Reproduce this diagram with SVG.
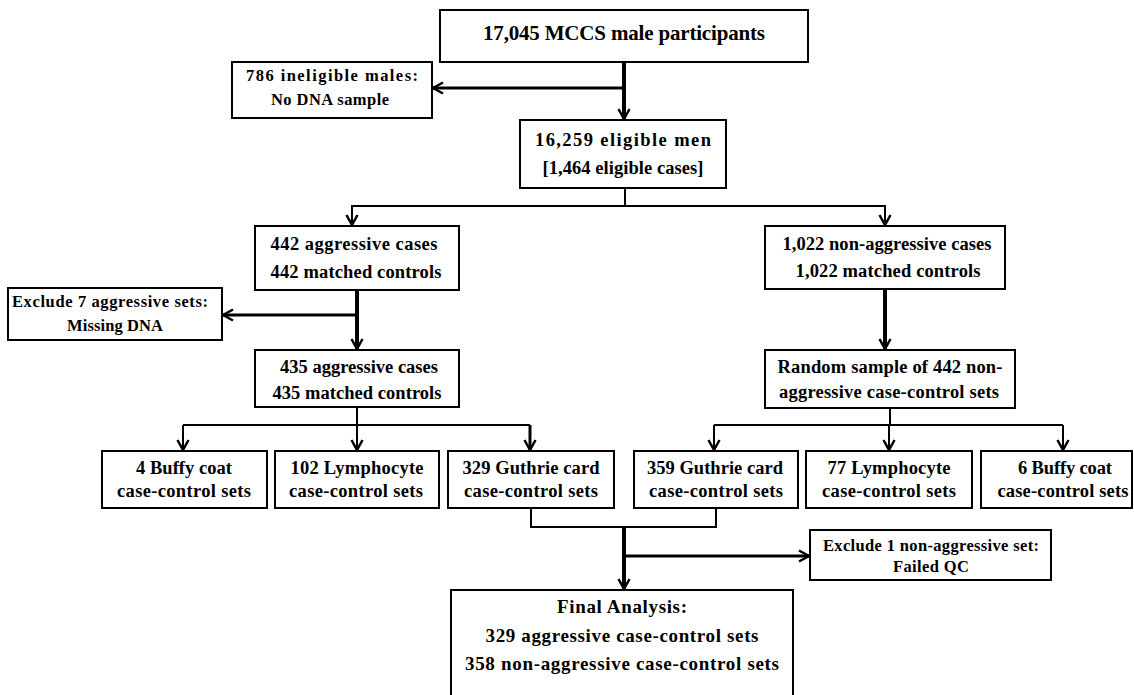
<svg xmlns="http://www.w3.org/2000/svg" width="1134" height="695" viewBox="0 0 1134 695">
<defs>
<style>
.box{fill:#fff;stroke:#000;stroke-width:2}
.t{font-family:"Liberation Serif","Times New Roman",serif;font-weight:bold;fill:#000;text-anchor:middle}
.s16{font-size:18.5px}
.s15{font-size:16.5px}
.s19{font-size:21px}
.s17{font-size:19px}
.thin{stroke:#000;stroke-width:2;fill:none}
.thick{stroke:#000;stroke-width:4;fill:none}
.mid{stroke:#000;stroke-width:3;fill:none}
</style>
<marker id="ah" viewBox="0 0 14 14" refX="12" refY="7" markerWidth="14" markerHeight="14" markerUnits="userSpaceOnUse" orient="auto">
<path d="M2,1.5 L12,7 L2,12.5" fill="none" stroke="#000" stroke-width="2.5"/>
</marker>
</defs>
<rect width="1134" height="695" fill="#fff"/>
<g id="connectors">
<line class="thick" x1="624" y1="62" x2="624" y2="119" marker-end="url(#ah)"/>
<line class="mid" x1="624" y1="88" x2="433" y2="88" marker-end="url(#ah)"/>
<line class="thin" x1="625" y1="188" x2="625" y2="206"/>
<polyline class="thin" points="352,225 352,206 885,206 885,225"/>
<line class="thin" x1="352" y1="206" x2="352" y2="225" marker-end="url(#ah)"/>
<line class="thin" x1="885" y1="206" x2="885" y2="225" marker-end="url(#ah)"/>
<line class="thick" x1="357" y1="290" x2="357" y2="349" marker-end="url(#ah)"/>
<line class="mid" x1="357" y1="315" x2="223" y2="315" marker-end="url(#ah)"/>
<line class="thick" x1="885" y1="289" x2="885" y2="349" marker-end="url(#ah)"/>
<line class="thin" x1="357" y1="407" x2="357" y2="425"/>
<line class="thin" x1="183" y1="425" x2="530" y2="425"/>
<line class="thin" x1="183" y1="425" x2="183" y2="450" marker-end="url(#ah)"/>
<line class="thin" x1="357" y1="425" x2="357" y2="450" marker-end="url(#ah)"/>
<line class="mid" x1="530" y1="425" x2="530" y2="450" marker-end="url(#ah)"/>
<line class="thin" x1="890" y1="408" x2="890" y2="425"/>
<line class="thin" x1="714" y1="425" x2="1063" y2="425"/>
<line class="thin" x1="714" y1="425" x2="714" y2="450" marker-end="url(#ah)"/>
<line class="thin" x1="889" y1="425" x2="889" y2="450" marker-end="url(#ah)"/>
<line class="thin" x1="1063" y1="425" x2="1063" y2="450" marker-end="url(#ah)"/>
<polyline class="thin" points="531,508 531,527 716,527 716,508"/>
<line class="thick" x1="624" y1="527" x2="624" y2="589" marker-end="url(#ah)"/>
<line class="mid" x1="624" y1="556" x2="809" y2="556" marker-end="url(#ah)"/>
</g>
<g id="n1"><rect class="box" x="440" y="10" width="368" height="52"/><text class="t s19" x="624" y="40" textLength="282" lengthAdjust="spacing">17,045 MCCS male participants</text></g>
<g id="n2"><rect class="box" x="232" y="62" width="200" height="56"/><text class="t s15" x="332" y="81" textLength="172" lengthAdjust="spacing">786 ineligible males:</text><text class="t s15" x="330" y="105" textLength="118" lengthAdjust="spacing">No DNA sample</text></g>
<g id="n3"><rect class="box" x="520" y="120" width="206" height="68"/><text class="t s16" x="623" y="146" textLength="176" lengthAdjust="spacing">16,259 eligible men</text><text class="t s16" x="623" y="174" textLength="161" lengthAdjust="spacing">[1,464 eligible cases]</text></g>
<g id="n4"><rect class="box" x="255" y="226" width="204" height="64"/><text class="t s16" x="354" y="250" textLength="167" lengthAdjust="spacing">442 aggressive cases</text><text class="t s16" x="356" y="278" textLength="171" lengthAdjust="spacing">442 matched controls</text></g>
<g id="n5"><rect class="box" x="765" y="226" width="240" height="63"/><text class="t s16" x="887" y="250" textLength="209" lengthAdjust="spacing">1,022 non-aggressive cases</text><text class="t s16" x="888" y="277" textLength="185" lengthAdjust="spacing">1,022 matched controls</text></g>
<g id="n6"><rect class="box" x="8" y="288" width="214" height="52"/><text class="t s15" x="110" y="307" textLength="196" lengthAdjust="spacing">Exclude 7 aggressive sets:</text><text class="t s15" x="115" y="331" textLength="96" lengthAdjust="spacing">Missing DNA</text></g>
<g id="n7"><rect class="box" x="255" y="350" width="204" height="57"/><text class="t s16" x="359" y="373" textLength="158" lengthAdjust="spacing">435 aggressive cases</text><text class="t s16" x="357" y="399" textLength="169" lengthAdjust="spacing">435 matched controls</text></g>
<g id="n8"><rect class="box" x="765" y="350" width="250" height="58"/><text class="t s16" x="890" y="373" textLength="225" lengthAdjust="spacing">Random sample of 442 non-</text><text class="t s16" x="889" y="398" textLength="220" lengthAdjust="spacing">aggressive case-control sets</text></g>
<g id="n9"><rect class="box" x="102" y="451" width="165" height="57"/><text class="t s16" x="184" y="474" textLength="96" lengthAdjust="spacing">4 Buffy coat</text><text class="t s16" x="184" y="497" textLength="134" lengthAdjust="spacing">case-control sets</text></g>
<g id="n10"><rect class="box" x="275" y="451" width="164" height="57"/><text class="t s16" x="357" y="474" textLength="133" lengthAdjust="spacing">102 Lymphocyte</text><text class="t s16" x="356" y="497" textLength="134" lengthAdjust="spacing">case-control sets</text></g>
<g id="n11"><rect class="box" x="448" y="451" width="166" height="57"/><text class="t s16" x="531" y="474" textLength="137" lengthAdjust="spacing">329 Guthrie card</text><text class="t s16" x="531" y="497" textLength="134" lengthAdjust="spacing">case-control sets</text></g>
<g id="n12"><rect class="box" x="634" y="451" width="164" height="57"/><text class="t s16" x="715" y="474" textLength="136" lengthAdjust="spacing">359 Guthrie card</text><text class="t s16" x="716" y="497" textLength="134" lengthAdjust="spacing">case-control sets</text></g>
<g id="n13"><rect class="box" x="806" y="451" width="166" height="57"/><text class="t s16" x="889" y="474" textLength="123" lengthAdjust="spacing">77 Lymphocyte</text><text class="t s16" x="889" y="497" textLength="134" lengthAdjust="spacing">case-control sets</text></g>
<g id="n14"><rect class="box" x="981" y="451" width="151" height="57"/><text class="t s16" x="1065" y="474" textLength="94" lengthAdjust="spacing">6 Buffy coat</text><text class="t s16" x="1063" y="497" textLength="131" lengthAdjust="spacing">case-control sets</text></g>
<g id="n15"><rect class="box" x="810" y="530" width="241" height="50"/><text class="t s15" x="931" y="551" textLength="216" lengthAdjust="spacing">Exclude 1 non-aggressive set:</text><text class="t s15" x="931" y="572" textLength="76" lengthAdjust="spacing">Failed QC</text></g>
<g id="n16"><rect class="box" x="451" y="590" width="342" height="110"/><text class="t s17" x="622" y="613" textLength="130" lengthAdjust="spacing">Final Analysis:</text><text class="t s17" x="622" y="642" textLength="273" lengthAdjust="spacing">329 aggressive case-control sets</text><text class="t s17" x="622" y="670" textLength="314" lengthAdjust="spacing">358 non-aggressive case-control sets</text></g>
</svg>
